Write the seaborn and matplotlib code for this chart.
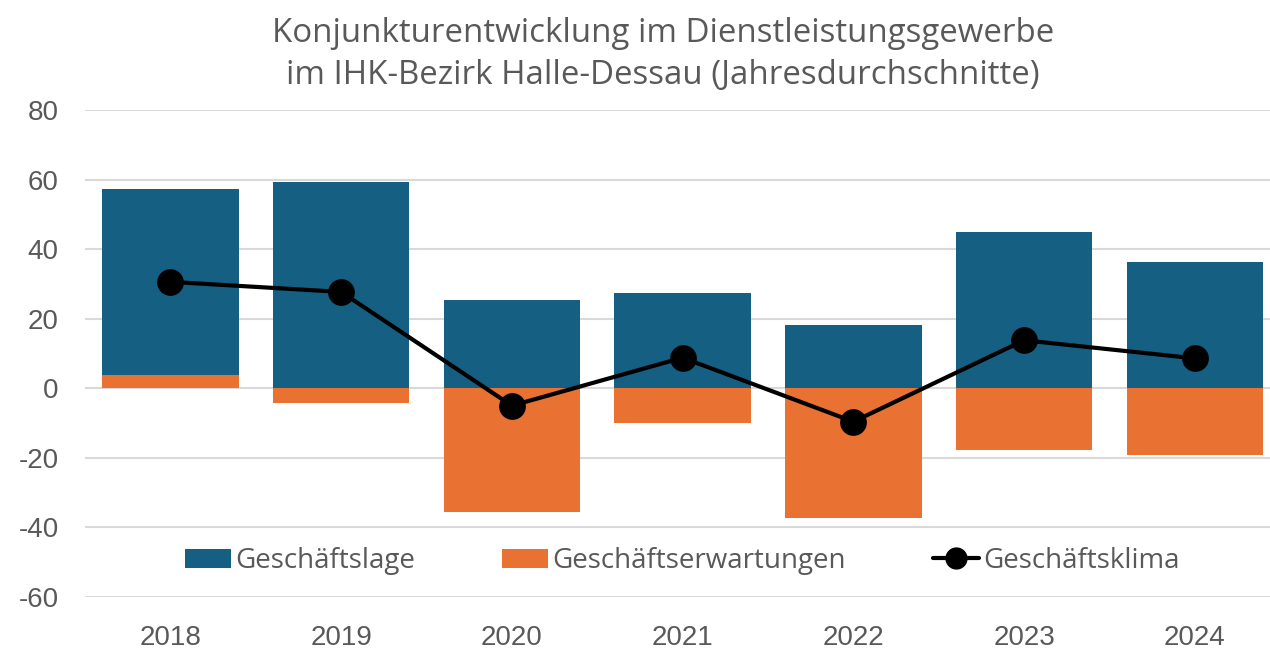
import numpy as np
import pandas as pd
import matplotlib
matplotlib.use("Agg")
import matplotlib.pyplot as plt
from matplotlib.patches import Patch
from matplotlib.lines import Line2D
import seaborn as sns

years = ["2018", "2019", "2020", "2021", "2022", "2023", "2024"]
lage = [57.2, 59.3, 25.4, 27.5, 18.1, 44.9, 36.3]
erwartungen = [3.8, -4.2, -35.5, -9.9, -37.3, -17.6, -19.1]
klima = [30.6, 27.7, -5.0, 8.8, -9.6, 13.8, 8.6]
yticks = [-60, -40, -20, 0, 20, 40, 60, 80]
series_names = ["Geschäftslage", "Geschäftserwartungen", "Geschäftsklima"]
title_lines = ["Konjunkturentwicklung im Dienstleistungsgewerbe",
               "im IHK-Bezirk Halle-Dessau (Jahresdurchschnitte)"]

BLUE = "#156082"
ORANGE = "#E97132"
TEXT = "#595959"
GRID = "#D9D9D9"

sns.set_theme(style="white")
plt.rcParams["font.family"] = ["Liberation Sans", "DejaVu Sans"]

df = pd.DataFrame({"year": years, "lage": lage, "erw": erwartungen, "klima": klima})

fig = plt.figure(figsize=(12.7, 6.53), dpi=100)
ax = fig.add_axes([85 / 1270, 1 - 597 / 653, 1 - 85 / 1270, (597 - 110) / 653])

sns.barplot(data=df, x="year", y="lage", color=BLUE, width=0.8, saturation=1,
            ax=ax, zorder=2, edgecolor="none")
sns.barplot(data=df, x="year", y="erw", color=ORANGE, width=0.8, saturation=1,
            ax=ax, zorder=3, edgecolor="none")
sns.pointplot(data=df, x="year", y="klima", color="black", markers="o",
              markersize=17, linewidth=3, ax=ax, zorder=4)

ax.set_ylim(-60, 80)
ax.set_xlim(-0.5, 6.44)
ax.set_yticks(yticks)
ax.set_yticklabels([str(v) for v in yticks])
ax.yaxis.grid(True, color=GRID, linewidth=1.5, zorder=0)
ax.set_axisbelow(True)
for s in ax.spines.values():
    s.set_visible(False)
ax.tick_params(axis="both", length=0, labelsize=20, labelcolor=TEXT)
ax.tick_params(axis="y", pad=19)
ax.tick_params(axis="x", pad=20)
ax.set_xlabel("")
ax.set_ylabel("")

handles = [Patch(facecolor=BLUE, edgecolor="none"),
           Patch(facecolor=ORANGE, edgecolor="none"),
           Line2D([0], [0], color="black", linewidth=3, marker="o", markersize=15)]
leg = ax.legend(handles, series_names, loc="center", bbox_to_anchor=(0.504, 0.074),
                ncol=3, frameon=False, handlelength=1.65, handleheight=0.7,
                handletextpad=0.15, columnspacing=3.15,
                prop={"family": "Open Sans", "size": 20})
for t in leg.get_texts():
    t.set_color(TEXT)

fig.text(0.522, 1 - 33 / 653, title_lines[0], ha="center", va="center",
         fontsize=23.8, color=TEXT, family="Open Sans")
fig.text(0.522, 1 - 76 / 653, title_lines[1], ha="center", va="center",
         fontsize=23.8, color=TEXT, family="Open Sans")

fig.savefig("out.png", dpi=100)
